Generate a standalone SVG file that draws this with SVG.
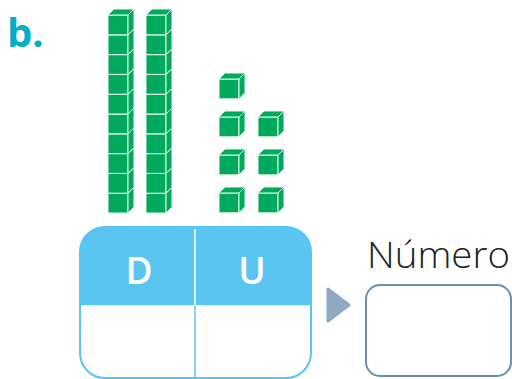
<svg xmlns="http://www.w3.org/2000/svg" xmlns:xlink="http://www.w3.org/1999/xlink" width="512" height="379" viewBox="0 0 512 379">
  <style>
    .face { fill: #00a95c; stroke: #e8f7ee; stroke-width: 1; stroke-linejoin: round; }
    .label { font-family: "Open Sans", "Liberation Sans", sans-serif; }
    .head { font-family: "Open Sans", "Liberation Sans", sans-serif; font-weight: 600; font-size: 37px; fill: #ffffff; text-anchor: middle; }
  </style>
  <defs>
    <!-- one base-ten cube: front, top and right faces; origin at the front face's top-left -->
    <g id="cube">
      <rect class="face" x="0" y="0" width="20" height="19.8"/>
      <polygon class="face" points="0,0 6,-6 26,-6 20,0"/>
      <polygon class="face" points="20,0 26,-6 26,13.8 20,19.8"/>
    </g>
    <clipPath id="tableClip">
      <rect x="80" y="227" width="231" height="151" rx="25"/>
    </clipPath>
  </defs>

  <rect width="512" height="379" fill="#ffffff"/>

  <text class="label" x="7" y="47" font-size="40" font-weight="700" fill="#00aec7">b.</text>

  <!-- ten-rods, drawn bottom-up so each cube covers the top of the one below -->
  <g id="rod-1">
    <use xlink:href="#cube" x="108" y="193.2"/>
    <use xlink:href="#cube" x="108" y="173.4"/>
    <use xlink:href="#cube" x="108" y="153.6"/>
    <use xlink:href="#cube" x="108" y="133.8"/>
    <use xlink:href="#cube" x="108" y="114"/>
    <use xlink:href="#cube" x="108" y="94.2"/>
    <use xlink:href="#cube" x="108" y="74.4"/>
    <use xlink:href="#cube" x="108" y="54.6"/>
    <use xlink:href="#cube" x="108" y="34.8"/>
    <use xlink:href="#cube" x="108" y="15"/>
  </g>
  <g id="rod-2">
    <use xlink:href="#cube" x="146" y="193.2"/>
    <use xlink:href="#cube" x="146" y="173.4"/>
    <use xlink:href="#cube" x="146" y="153.6"/>
    <use xlink:href="#cube" x="146" y="133.8"/>
    <use xlink:href="#cube" x="146" y="114"/>
    <use xlink:href="#cube" x="146" y="94.2"/>
    <use xlink:href="#cube" x="146" y="74.4"/>
    <use xlink:href="#cube" x="146" y="54.6"/>
    <use xlink:href="#cube" x="146" y="34.8"/>
    <use xlink:href="#cube" x="146" y="15"/>
  </g>

  <!-- seven unit cubes -->
  <g id="units">
    <use xlink:href="#cube" x="219" y="79"/>
    <use xlink:href="#cube" x="219" y="117"/>
    <use xlink:href="#cube" x="258" y="117"/>
    <use xlink:href="#cube" x="219" y="155"/>
    <use xlink:href="#cube" x="258" y="155"/>
    <use xlink:href="#cube" x="219" y="193"/>
    <use xlink:href="#cube" x="258" y="193"/>
  </g>

  <!-- place-value table -->
  <g id="table">
    <rect x="80" y="227" width="231" height="151" rx="25" fill="#ffffff"/>
    <rect x="80" y="227" width="231" height="78" fill="#5bc5f2" clip-path="url(#tableClip)"/>
    <line x1="195" y1="229" x2="195" y2="305" stroke="#ffffff" stroke-width="1.5"/>
    <line x1="80" y1="305.5" x2="311" y2="305.5" stroke="#d9f1fc" stroke-width="1"/>
    <line x1="195" y1="306" x2="195" y2="378" stroke="#5bc5f2" stroke-width="1.5"/>
    <rect x="80" y="227" width="231" height="151" rx="25" fill="none" stroke="#5bc5f2" stroke-width="2"/>
    <text class="head" x="139" y="284">D</text>
    <text class="head" x="252" y="284">U</text>
  </g>

  <g id="connectors">
    <polygon points="328,289 349,305 328,321" fill="#8ea9c1" stroke="#8ea9c1" stroke-width="3" stroke-linejoin="round"/>
  </g>

  <g id="answer">
    <text class="label" x="367" y="268" font-size="37" font-weight="300" fill="#222222" textLength="143" lengthAdjust="spacingAndGlyphs">Número</text>
    <rect x="366" y="285" width="145" height="91" rx="14" fill="none" stroke="#6d8fae" stroke-width="2"/>
  </g>
</svg>
